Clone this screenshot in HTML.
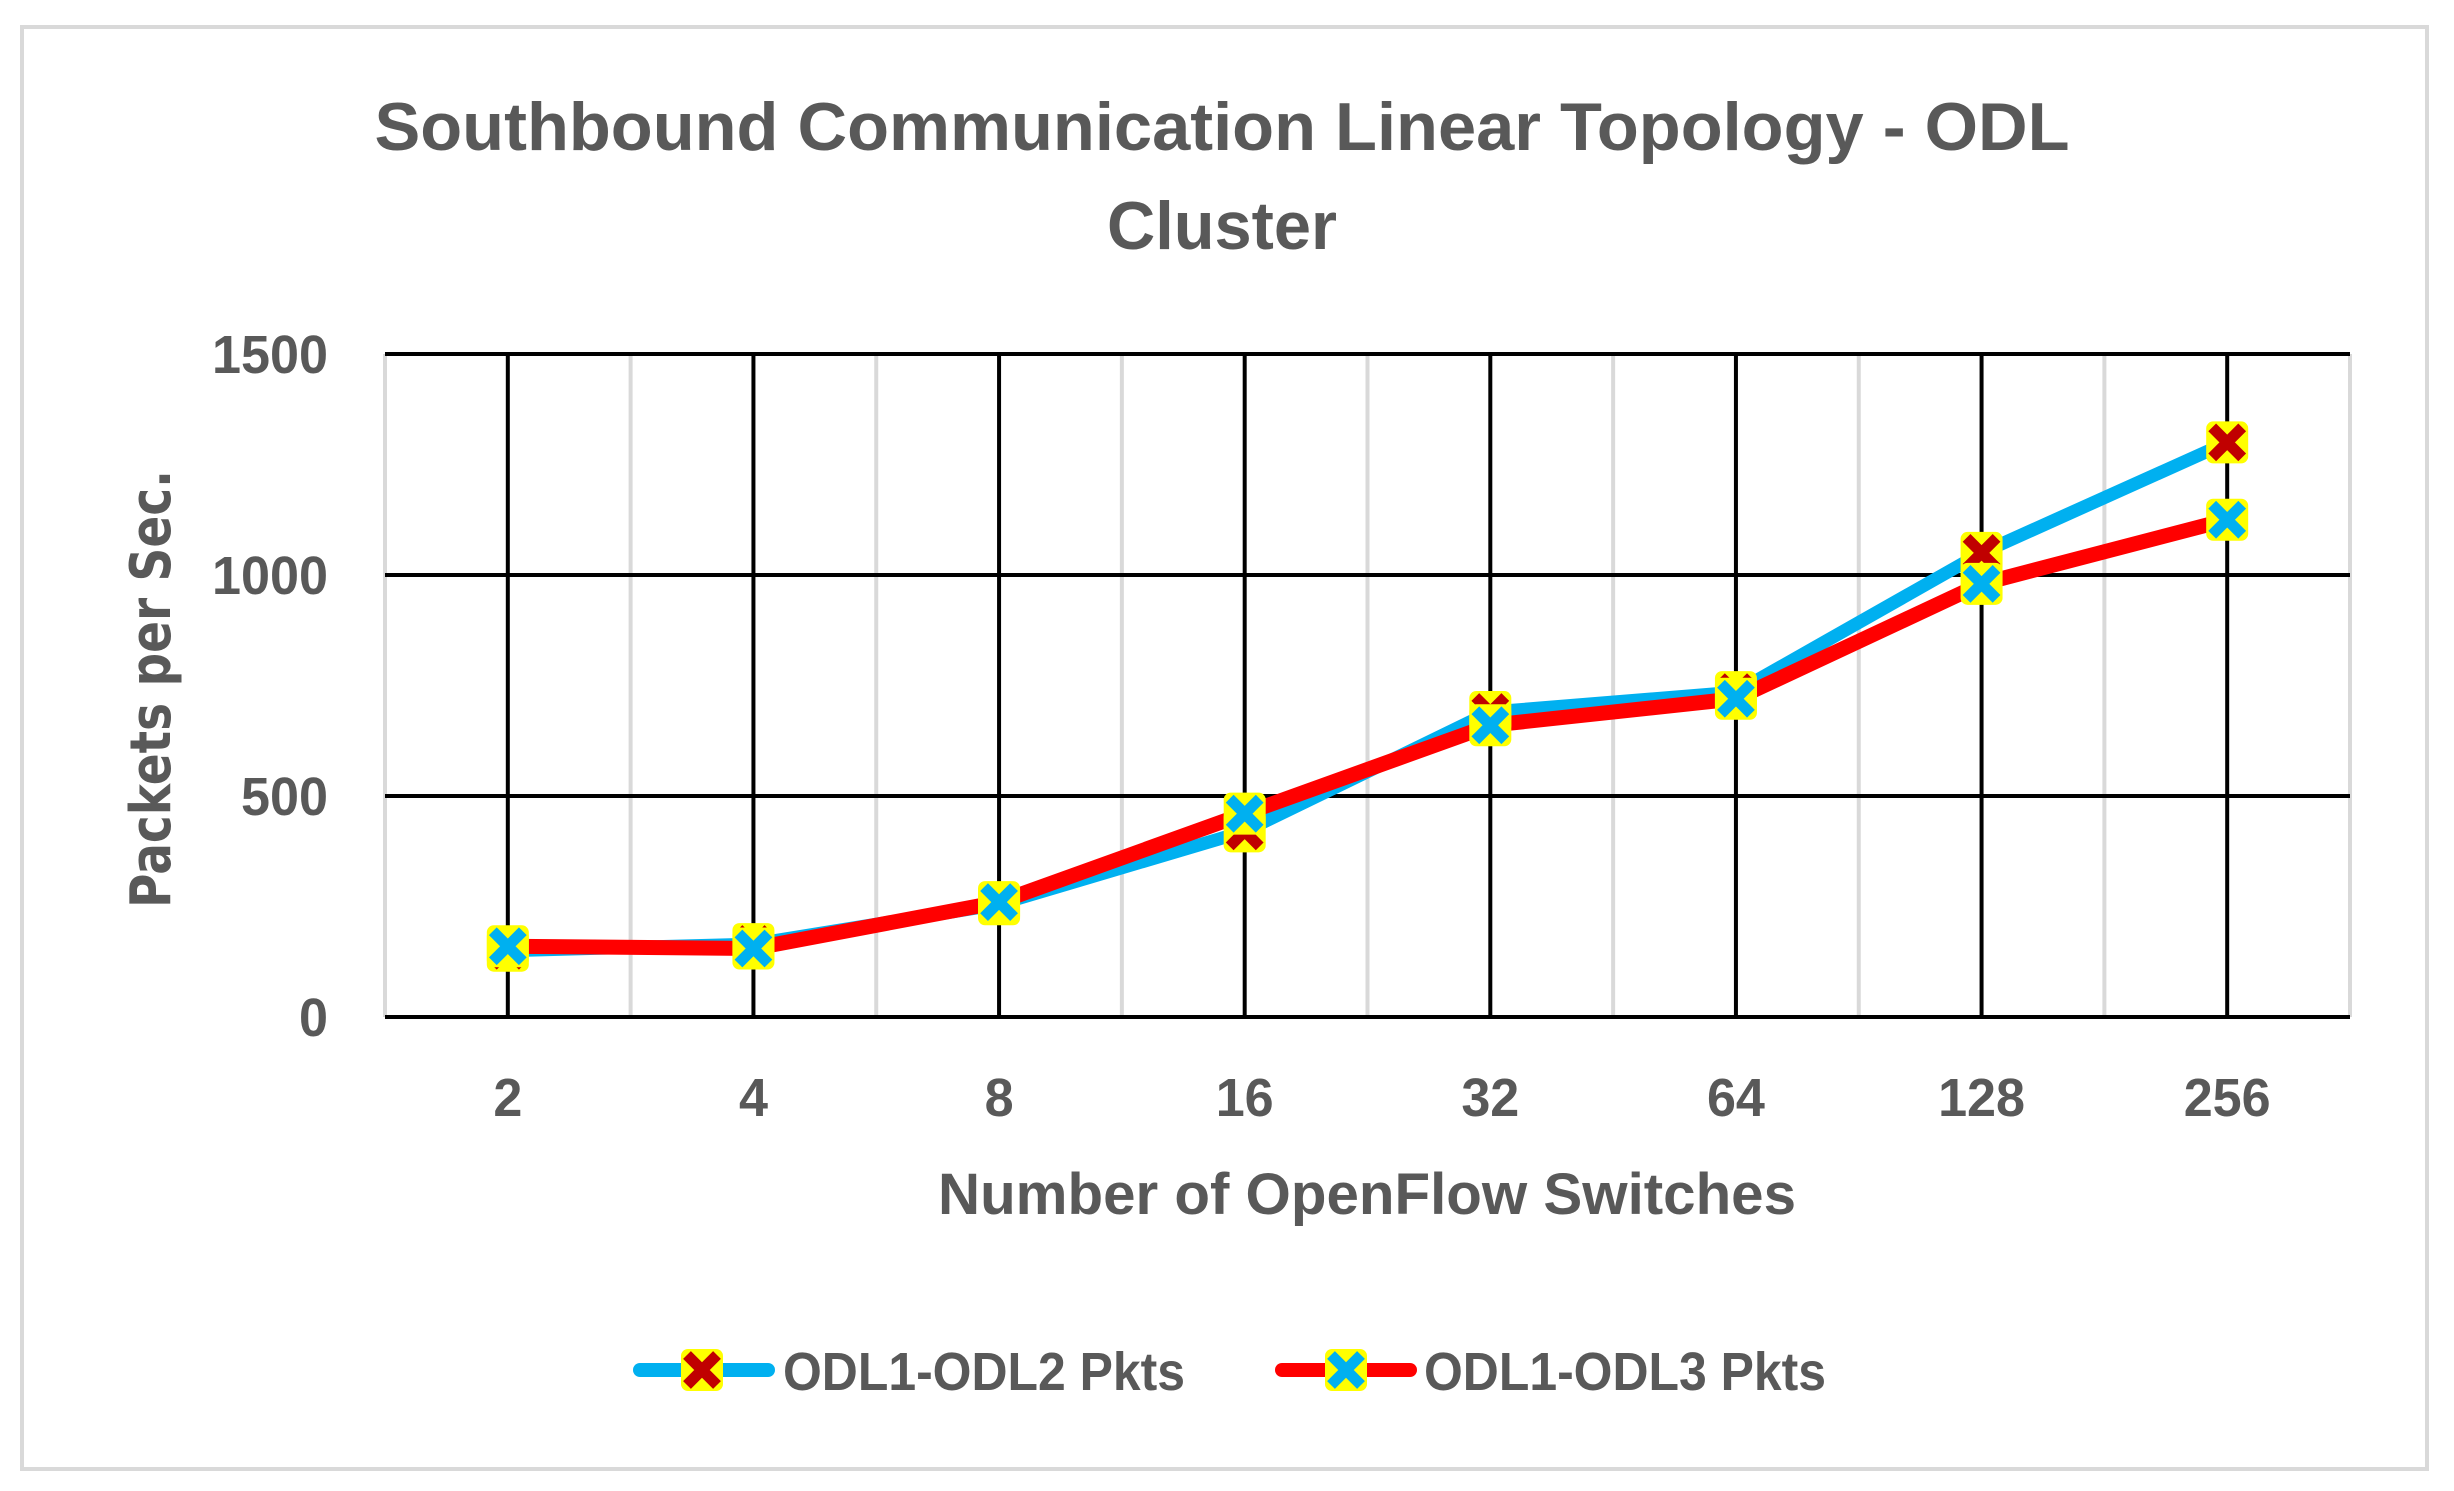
<!DOCTYPE html>
<html><head><meta charset="utf-8"><style>
html,body{margin:0;padding:0;background:#fff;}
svg{display:block;}
text{font-family:"Liberation Sans",sans-serif;font-weight:bold;fill:#595959;}
</style></head><body>
<svg id="chart" width="2454" height="1491" viewBox="0 0 2454 1491" xmlns="http://www.w3.org/2000/svg">
<rect x="22" y="27" width="2405" height="1442" fill="#fff" stroke="#d9d9d9" stroke-width="4"/>
<text x="1222" y="150" text-anchor="middle" font-size="68" textLength="1695" lengthAdjust="spacingAndGlyphs">Southbound Communication Linear Topology - ODL</text>
<text x="1222" y="249" text-anchor="middle" font-size="68" textLength="230" lengthAdjust="spacingAndGlyphs">Cluster</text>
<g id="grid"></g>
<g id="series"></g>
<g id="labels"></g>
<text transform="translate(170,689) rotate(-90)" text-anchor="middle" font-size="56" style="font-family:'DejaVu Sans',sans-serif" textLength="438" lengthAdjust="spacingAndGlyphs">Packets per Sec.</text>
<text x="1367" y="1214" text-anchor="middle" font-size="58" textLength="858" lengthAdjust="spacingAndGlyphs">Number of OpenFlow Switches</text>
<g id="legend"></g>
</svg>
<script>
const categories = ["2","4","8","16","32","64","128","256"];
const odl12 = [150,165,255,420,690,735,1050,1300];
const odl13 = [160,155,260,460,660,720,980,1125];
const yTicks = [0,500,1000,1500];
const NS="http://www.w3.org/2000/svg";
const L=385,R=2350,T=354,B=1017,yMax=1500;
const bw=(R-L)/categories.length;
const xs=i=>L+bw*(i+0.5);
const ys=v=>B-(v/yMax)*(B-T);
function mk(tag,attrs,parent){const e=document.createElementNS(NS,tag);for(const k in attrs)e.setAttribute(k,attrs[k]);parent.appendChild(e);return e;}
const grid=document.getElementById('grid'),labels=document.getElementById('labels'),series=document.getElementById('series'),legend=document.getElementById('legend');
for(let i=0;i<=categories.length;i++){
  const x=L+bw*i;
  const g=mk('line',{x1:x,x2:x,y1:T,y2:B,stroke:'#d9d9d9','stroke-width':4},grid);
  
  
}
categories.forEach((c,i)=>{
  const v=mk('line',{x1:xs(i),x2:xs(i),y1:T,y2:B,stroke:'#000','stroke-width':4},grid);
  
  
  const t=mk('text',{x:xs(i),y:1116,'text-anchor':'middle','font-size':54,textLength:c.length*29,lengthAdjust:'spacingAndGlyphs'},labels);
  t.textContent=c;
  
  
});
yTicks.forEach(v=>{
  const l=mk('line',{x1:L,x2:R,y1:ys(v),y2:ys(v),stroke:'#000','stroke-width':4},grid);
  
  
  const s=String(v);
  const t=mk('text',{x:328,y:ys(v)+19,'text-anchor':'end','font-size':54,textLength:s.length*29,lengthAdjust:'spacingAndGlyphs'},labels);
  t.textContent=s;
  
  
});
function marker(cx,cy,col,parent){
  const g=mk('g',{},parent);
  mk('rect',{x:cx-21,y:cy-21,width:42,height:42,rx:7,fill:'#ffff00'},g);
  mk('path',{d:`M${cx-15} ${cy-15}L${cx+15} ${cy+15}M${cx+15} ${cy-15}L${cx-15} ${cy+15}`,stroke:col,'stroke-width':11},g);
  return g;
}
function drawSeries(vals,lineCol,markCol,w,name){
  const p=mk('polyline',{points:vals.map((v,i)=>xs(i)+','+ys(v)).join(' '),fill:'none',stroke:lineCol,'stroke-width':w,'stroke-linejoin':'round','stroke-linecap':'round'},series);
  
  
  return ()=>vals.forEach((v,i)=>{
    const m=marker(xs(i),ys(v),markCol,series);
    
    
  });
}
const m1=drawSeries(odl12,'#00b0f0','#c00000',13,'odl1-odl2');
const m2=drawSeries(odl13,'#ff0000','#00b0f0',15,'odl1-odl3');
m1();m2();
function legendEntry(x1,x2,mx,tx,lineCol,markCol,label,name){
  const g=mk('g',{},legend);
  
  
  mk('line',{x1:x1,x2:x2,y1:1370,y2:1370,stroke:lineCol,'stroke-width':14,'stroke-linecap':'round'},g);
  marker(mx,1370,markCol,g);
  const t=mk('text',{x:tx,y:1390,'font-size':54,textLength:402,lengthAdjust:'spacingAndGlyphs'},g);
  t.textContent=label;
}
legendEntry(640,768,702,783,'#00b0f0','#c00000','ODL1-ODL2 Pkts','legend-entry-odl1-odl2');
legendEntry(1282,1410,1346,1424,'#ff0000','#00b0f0','ODL1-ODL3 Pkts','legend-entry-odl1-odl3');
</script>
</body></html>
